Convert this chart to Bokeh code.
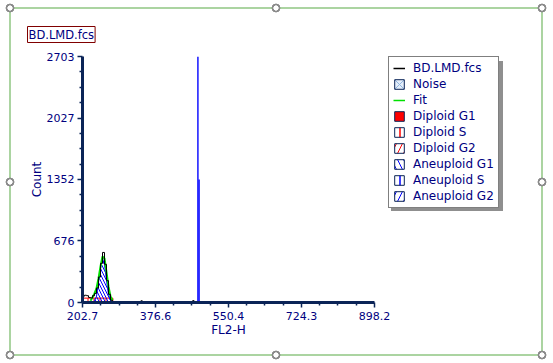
import numpy as np
from bokeh.plotting import figure
from bokeh.models import FixedTicker, Legend, LegendItem, Range1d
from bokeh.embed import file_html
from bokeh.resources import INLINE

# ---------------- data ----------------
fl2_bins = [200.3, 205.1, 209.8, 214.6, 219.4, 224.1, 228.9, 233.7, 238.4, 243.2,
            248.0, 252.7, 257.5, 262.2, 267.0, 271.8, 276.5, 281.3]
data_counts = [0, 70, 80, 75, 55, 50, 75, 100, 160, 280, 430, 550, 420, 240, 90, 25, 8, 0]

fit_x = [221.7, 226.5, 231.3, 236.0, 240.8, 245.6, 250.3, 255.1, 259.9, 264.6, 269.4, 274.2]
fit_counts = [20, 55, 99, 154, 264, 396, 505, 484, 330, 176, 66, 22]

aneu_g1_x = [228.9, 231.3, 236.0, 240.8, 245.6, 250.3, 255.1, 259.9, 264.6, 269.4, 271.8]
aneu_g1_counts = [0, 22, 66, 220, 374, 484, 418, 242, 88, 22, 0]

dip_s_left, dip_s_right, dip_s_level = 203.5, 275.0, 48
dip_g1_x, dip_g1_counts = [271.8, 276.5], [12, 8]

blip_x = [343.5, 466.8]
blip_counts = [18, 20]

spike_x = [477.6, 480.4]
spike_counts = [2703, 1352]

x_tick_labels = ["202.7", "376.6", "550.4", "724.3", "898.2"]
y_tick_labels = ["0", "676", "1352", "2027", "2703"]
legend_labels = ["BD.LMD.fcs", "Noise", "Fit", "Diploid G1", "Diploid S", "Diploid G2",
                 "Aneuploid G1", "Aneuploid S", "Aneuploid G2"]
file_title = "BD.LMD.fcs"

# ---------------- figure ----------------
W, H = 553, 363
FL, FT, FR, FB = 82, 56, 374, 302  # data frame in page px

# decorative green selection frame with round handles + legend shadow (CSS backdrop)
GREEN, RING = "#abd4a1", "#8a8a8a"
imgs, pos, sizes = [], [], []
for cx, cy in [(10, 8), (276, 8), (542, 8), (10, 182), (542, 182),
               (10, 355), (276, 355), (542, 355)]:
    imgs.append(f"radial-gradient(circle 6px at {cx}px {cy}px, #ffffff 0px, #ffffff 2.4px, "
                f"{RING} 2.8px, {RING} 4.2px, rgba(255,255,255,0) 4.7px)")
    pos.append("0px 0px"); sizes.append("100% 100%")
for (x0, y0, w, h, c) in [(10, 7, 532, 2, GREEN), (10, 354, 532, 2, GREEN),
                          (9, 8, 2, 347, GREEN), (541, 8, 2, 347, GREEN),
                          (391, 61, 112, 150, "#8f8f8f")]:
    imgs.append(f"linear-gradient({c}, {c})")
    pos.append(f"{x0}px {y0}px"); sizes.append(f"{w}px {h}px")

p = figure(width=W, height=H, output_backend="svg", toolbar_location=None,
           x_range=Range1d(float(x_tick_labels[0]), float(x_tick_labels[-1])),
           y_range=Range1d(float(y_tick_labels[0]), float(y_tick_labels[-1])),
           min_border_left=FL, min_border_top=FT, min_border_right=W - FR,
           min_border_bottom=H - FB, frame_width=FR - FL, frame_height=FB - FT)
p.styles = {"background-color": "white",
            "background-image": ", ".join(imgs),
            "background-position": ", ".join(pos),
            "background-size": ", ".join(sizes),
            "background-repeat": "no-repeat"}
p.xgrid.visible = False
p.ygrid.visible = False
p.outline_line_color = None
p.background_fill_alpha = 0
p.border_fill_alpha = 0

NAVY = "#0b2457"
TXT = "#000080"
x_ticks = [float(s) for s in x_tick_labels]
y_ticks = [float(s) for s in y_tick_labels]
def minors(t):
    out = []
    for a, b in zip(t[:-1], t[1:]):
        out += list(np.linspace(a, b, 5)[1:-1])
    return out
p.xaxis.ticker = FixedTicker(ticks=x_ticks, minor_ticks=minors(x_ticks))
p.yaxis.ticker = FixedTicker(ticks=y_ticks, minor_ticks=minors(y_ticks))
p.xaxis.major_label_overrides = {v: s for v, s in zip(x_ticks, x_tick_labels)}
p.yaxis.major_label_overrides = {v: s for v, s in zip(y_ticks, y_tick_labels)}
p.xaxis.axis_label = "FL2-H"
p.yaxis.axis_label = "Count"
for ax in (p.xaxis, p.yaxis):
    ax.axis_line_color = NAVY
    ax.axis_line_width = 3
    ax.major_tick_line_color = NAVY
    ax.minor_tick_line_color = NAVY
    ax.major_tick_line_width = 1.5
    ax.minor_tick_line_width = 1.5
    ax.major_tick_out = 5
    ax.major_tick_in = 0
    ax.minor_tick_out = 3
    ax.minor_tick_in = 0
    ax.major_label_text_font = "DejaVu Sans"
    ax.major_label_text_font_size = "11px"
    ax.major_label_text_color = TXT
    ax.major_label_standoff = 3
    ax.axis_label_text_font = "DejaVu Sans"
    ax.axis_label_text_font_size = "12px"
    ax.axis_label_text_font_style = "normal"
    ax.axis_label_text_color = TXT
p.xaxis.major_label_standoff = 4
p.xaxis.axis_label_standoff = 0
p.yaxis.axis_label_standoff = 0

# title box
p.title.text = file_title
p.title.align = "left"
p.title.offset = -55
p.title.standoff = 28
p.title.text_font = "DejaVu Sans"
p.title.text_font_size = "11.5px"
p.title.text_font_style = "normal"
p.title.text_color = TXT
p.title.border_line_color = "#800000"
p.title.border_line_width = 1
p.title.background_fill_color = "white"
p.title.padding = 1

# ---------------- glyphs ----------------
p.quad(left=[dip_s_left], right=[dip_s_right], bottom=[0], top=[dip_s_level],
       fill_color=None, line_color="red", line_width=1,
       hatch_pattern="|", hatch_color="red", hatch_scale=6, hatch_weight=1)
p.vbar(x=dip_g1_x, top=dip_g1_counts, width=4.7, fill_color="red", line_color="red")
p.varea(x=aneu_g1_x, y1=0, y2=aneu_g1_counts, fill_color=None,
        hatch_pattern="\\", hatch_color="blue", hatch_scale=6, hatch_weight=1)
p.line(aneu_g1_x, aneu_g1_counts, line_color="blue", line_width=1)
p.line(fit_x, fit_counts, line_color="#00e000", line_width=2)
p.step(fl2_bins, data_counts, mode="center", line_color="black", line_width=1)
p.vbar(x=blip_x, top=blip_counts, width=3.5, fill_color="black", line_color="black")
p.vbar(x=spike_x, top=spike_counts, width=3.3, fill_color="#0000ff", line_color=None)

# legend glyph renderers (a single NaN row each, so nothing shows in the plot)
nan = [float("nan")]
def box(**kw):
    return p.quad(left=nan, right=nan, top=nan, bottom=nan, line_color=NAVY, line_width=1, **kw)
lg_noise = box(fill_color="#e4eefa", hatch_pattern="x", hatch_color="#8fb4e0", hatch_scale=12, hatch_weight=1)
lg_dg1 = box(fill_color="red")
lg_ds = box(fill_color="white", hatch_pattern="|", hatch_color="red", hatch_scale=12, hatch_weight=1.5)
lg_dg2 = box(fill_color="white", hatch_pattern="/", hatch_color="red", hatch_scale=12, hatch_weight=1)
lg_ag1 = box(fill_color="white", hatch_pattern="\\", hatch_color="blue", hatch_scale=12, hatch_weight=1)
lg_as = box(fill_color="white", hatch_pattern="|", hatch_color="blue", hatch_scale=12, hatch_weight=1.5)
lg_ag2 = box(fill_color="white", hatch_pattern="/", hatch_color="blue", hatch_scale=12, hatch_weight=1)
lg_fit = p.line(nan, nan, line_color="#00e000", line_width=1.5)
lg_data = p.line(nan, nan, line_color="black", line_width=1.5)
rends = [lg_data, lg_noise, lg_fit, lg_dg1, lg_ds, lg_dg2, lg_ag1, lg_as, lg_ag2]

legend = Legend(items=[LegendItem(label=l, renderers=[r]) for l, r in zip(legend_labels, rends)],
                location=(388 - FR, FB - 208), orientation="vertical",
                border_line_color="black", border_line_width=1, background_fill_color="white",
                background_fill_alpha=1, padding=4, spacing=2, margin=0,
                glyph_height=12, glyph_width=12, label_height=12, label_standoff=8,
                label_text_font="DejaVu Sans", label_text_font_size="12px", label_text_color=TXT)
p.add_layout(legend, "right")

open("out.html", "w").write(file_html(p, INLINE))
